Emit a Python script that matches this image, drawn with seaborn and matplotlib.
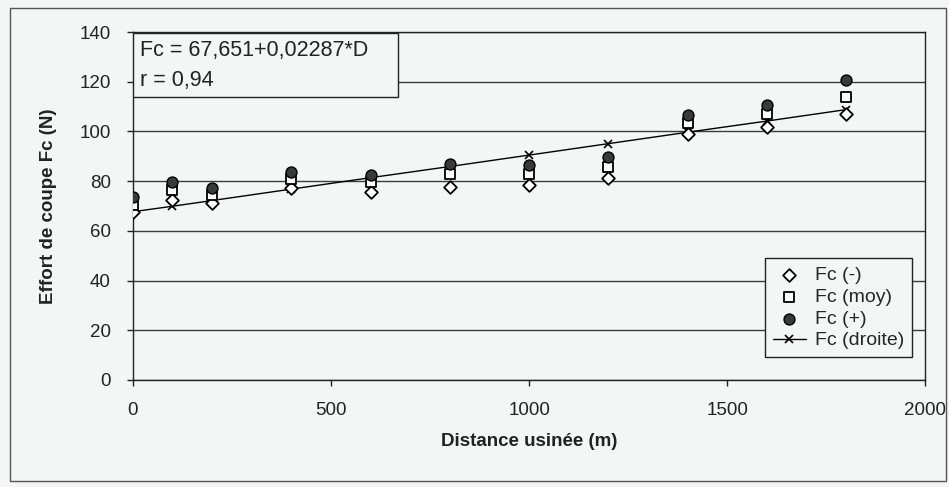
import matplotlib
matplotlib.use("Agg")
import matplotlib.pyplot as plt
import seaborn as sns
from matplotlib.patches import Rectangle

# valeurs
distance = [0, 100, 200, 400, 600, 800, 1000, 1200, 1400, 1600, 1800]
fc_moins = [67.5, 72.5, 71.3, 77.1, 75.7, 77.5, 78.5, 81.1, 98.8, 101.9, 107.2]
fc_moy = [70.5, 76.4, 74.4, 81.0, 79.8, 83.0, 83.0, 85.8, 103.3, 107.0, 114.0]
fc_plus = [73.5, 79.8, 77.1, 83.8, 82.5, 87.0, 86.5, 89.8, 106.5, 110.6, 120.8]
fc_droite = [67.7, 69.9, 72.2, 76.8, 81.4, 85.9, 90.5, 95.1, 99.7, 104.2, 108.8]

equation = "Fc = 67,651+0,02287*D"
coef_r = "r = 0,94"

sns.set_theme(style="white")
plt.rcParams['font.family'] = ['Liberation Sans', 'DejaVu Sans']

bg = '#f4f6f6'
fig = plt.figure(figsize=(9.49, 4.87), dpi=100, facecolor=bg)
ax = fig.add_axes([0.140, 0.220, 0.835, 0.714])
ax.set_facecolor(bg)

# droite de regression
sns.lineplot(x=distance, y=fc_droite, ax=ax, color='black', linewidth=1.0,
             marker='x', markersize=6, markeredgewidth=1.2, markeredgecolor='black',
             label='Fc (droite)', zorder=2)

sns.scatterplot(x=distance, y=fc_moins, ax=ax, marker='D', s=42, color='white',
                edgecolor='black', linewidth=1.3, label='Fc (-)', zorder=3)
sns.scatterplot(x=distance, y=fc_moy, ax=ax, marker='s', s=58, color='white',
                edgecolor='black', linewidth=1.3, label='Fc (moy)', zorder=4)
sns.scatterplot(x=distance, y=fc_plus, ax=ax, marker='o', s=62, color='#3a3a3a',
                edgecolor='black', linewidth=1.0, label='Fc (+)', zorder=5)

ax.set_xlim(0, 2000)
ax.set_ylim(0, 140)
ax.set_xticks(range(0, 2001, 500))
ax.set_yticks(range(0, 141, 20))
ax.yaxis.grid(True, color='#3c3c3c', linewidth=1.0)
ax.set_axisbelow(True)
for s in ax.spines.values():
    s.set_color('#222222')
    s.set_linewidth(1.0)
ax.tick_params(axis='both', which='major', labelsize=13.5, length=4, width=1,
               color='#222222', direction='out', left=True, bottom=True,
               labelcolor='#222222')
ax.tick_params(axis='y', pad=12)
ax.tick_params(axis='x', pad=12)
ax.set_xlabel("Distance usinée (m)", fontsize=13.5, fontweight='bold', color='#222222', labelpad=10)
ax.set_ylabel("Effort de coupe Fc (N)", fontsize=13.5, fontweight='bold', color='#222222', labelpad=16)

handles, labels = ax.get_legend_handles_labels()
order = ['Fc (-)', 'Fc (moy)', 'Fc (+)', 'Fc (droite)']
hmap = dict(zip(labels, handles))
leg = ax.legend([hmap[k] for k in order], order, loc='lower right',
                bbox_to_anchor=(0.996, 0.037), fontsize=14, frameon=True,
                fancybox=False, edgecolor='#222222', facecolor=bg, framealpha=1,
                handlelength=1.7, labelspacing=0.22, borderpad=0.4, handletextpad=0.5)
leg.get_frame().set_linewidth(1.0)

# encadre de l'equation
ax.add_patch(Rectangle((0, 0.813), 0.335, 0.185, transform=ax.transAxes,
                       facecolor=bg, edgecolor='#222222', linewidth=1.0, zorder=6))
ax.text(0.009, 0.948, equation, transform=ax.transAxes, fontsize=15.5,
        va='center', ha='left', color='#222222', zorder=7)
ax.text(0.009, 0.862, coef_r, transform=ax.transAxes, fontsize=15.5,
        va='center', ha='left', color='#222222', zorder=7)

# cadre exterieur
fig.add_artist(Rectangle((10 / 949, 1 - 481 / 487), 936 / 949, 473 / 487,
                         transform=fig.transFigure, fill=False,
                         edgecolor='#555555', linewidth=1.0))

fig.savefig("out.png", dpi=100, facecolor=bg)
